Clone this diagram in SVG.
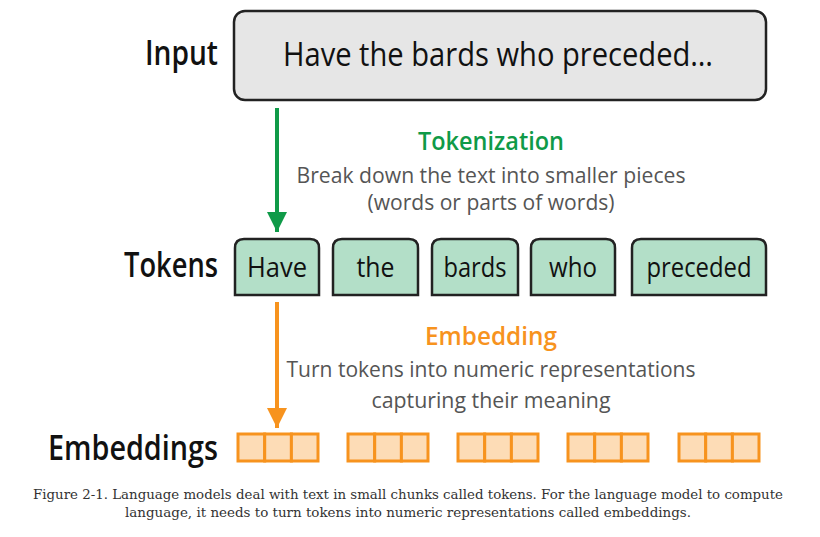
<svg xmlns="http://www.w3.org/2000/svg" width="820" height="537" viewBox="0 0 820 537">
<defs>
<style>
.lbl{font-family:"Open Sans","Liberation Sans",sans-serif;font-size:34px;fill:#111;text-anchor:end;font-weight:600}
.big{font-family:"Open Sans","Liberation Sans",sans-serif;font-size:33px;fill:#111;text-anchor:middle;font-weight:500}
.tok{font-family:"Open Sans","Liberation Sans",sans-serif;font-size:28px;fill:#111;text-anchor:middle;font-weight:500}
.head{font-family:"Open Sans","Liberation Sans",sans-serif;font-size:26px;font-weight:600;text-anchor:middle}
.desc{font-family:"Open Sans","Liberation Sans",sans-serif;font-size:22px;fill:#555;text-anchor:middle}
.cap{font-family:"DejaVu Serif","Liberation Serif",serif;font-size:13px;fill:#333;text-anchor:middle}
.tokbox{fill:#b3dfc8;stroke:#222;stroke-width:2.5}
.emb{fill:#fddcb6;stroke:#f7931e;stroke-width:3}
</style>
<marker id="ahG" viewBox="0 0 10 10" refX="10" refY="5" markerWidth="6" markerHeight="5" markerUnits="strokeWidth" orient="auto"><path d="M0,0L10,5L0,10z" fill="#0f9a48"/></marker>
<marker id="ahO" viewBox="0 0 10 10" refX="10" refY="5" markerWidth="6" markerHeight="5" markerUnits="strokeWidth" orient="auto"><path d="M0,0L10,5L0,10z" fill="#f7931e"/></marker>
</defs>
<rect width="820" height="537" fill="#fff"/>

<g id="labels">
<text class="lbl" x="218" y="65" textLength="73" lengthAdjust="spacingAndGlyphs">Input</text>
<text class="lbl" x="218" y="277" textLength="94" lengthAdjust="spacingAndGlyphs">Tokens</text>
<text class="lbl" x="218" y="460" textLength="170" lengthAdjust="spacingAndGlyphs">Embeddings</text>
</g>

<g id="input">
<rect x="234" y="11" width="532" height="89" rx="11" fill="#e6e6e6" stroke="#222" stroke-width="2.5"/>
<text class="big" x="498" y="66" textLength="430" lengthAdjust="spacingAndGlyphs">Have the bards who preceded…</text>
</g>

<g id="connectors">
<line x1="277" y1="108" x2="277" y2="232" stroke="#0f9a48" stroke-width="4" marker-end="url(#ahG)"/>
<line x1="277" y1="302" x2="277" y2="428" stroke="#f7931e" stroke-width="4" marker-end="url(#ahO)"/>
</g>

<g id="tokenization-label">
<text class="head" x="491" y="150" fill="#0f9a48" textLength="146" lengthAdjust="spacingAndGlyphs">Tokenization</text>
<text class="desc" x="491" y="183" textLength="389" lengthAdjust="spacingAndGlyphs">Break down the text into smaller pieces</text>
<text class="desc" x="491" y="210" textLength="247" lengthAdjust="spacingAndGlyphs">(words or parts of words)</text>
</g>

<g id="token-have">
<path class="tokbox" d="M235,295 V248 Q235,239 244,239 H310 Q319,239 319,248 V295 Z"/>
<text class="tok" x="277" y="277" textLength="60" lengthAdjust="spacingAndGlyphs">Have</text>
</g>
<g id="token-the">
<path class="tokbox" d="M333,295 V248 Q333,239 342,239 H409 Q418,239 418,248 V295 Z"/>
<text class="tok" x="375.5" y="277" textLength="38" lengthAdjust="spacingAndGlyphs">the</text>
</g>
<g id="token-bards">
<path class="tokbox" d="M432,295 V248 Q432,239 441,239 H509 Q518,239 518,248 V295 Z"/>
<text class="tok" x="475" y="277" textLength="63" lengthAdjust="spacingAndGlyphs">bards</text>
</g>
<g id="token-who">
<path class="tokbox" d="M531,295 V248 Q531,239 540,239 H606 Q615,239 615,248 V295 Z"/>
<text class="tok" x="573" y="277" textLength="48" lengthAdjust="spacingAndGlyphs">who</text>
</g>
<g id="token-preceded">
<path class="tokbox" d="M632,295 V248 Q632,239 641,239 H757 Q766,239 766,248 V295 Z"/>
<text class="tok" x="699" y="277" textLength="105" lengthAdjust="spacingAndGlyphs">preceded</text>
</g>

<g id="embedding-label">
<text class="head" x="491" y="345" fill="#f7931e" textLength="132" lengthAdjust="spacingAndGlyphs">Embedding</text>
<text class="desc" x="491" y="377" textLength="409" lengthAdjust="spacingAndGlyphs">Turn tokens into numeric representations</text>
<text class="desc" x="491" y="408" textLength="239" lengthAdjust="spacingAndGlyphs">capturing their meaning</text>
</g>

<g id="emb-1"><rect class="emb" x="238" y="434" width="26.7" height="27"/><rect class="emb" x="264.7" y="434" width="26.7" height="27"/><rect class="emb" x="291.4" y="434" width="26.6" height="27"/></g>
<g id="emb-2"><rect class="emb" x="348" y="434" width="26.7" height="27"/><rect class="emb" x="374.7" y="434" width="26.7" height="27"/><rect class="emb" x="401.4" y="434" width="26.6" height="27"/></g>
<g id="emb-3"><rect class="emb" x="458" y="434" width="26.7" height="27"/><rect class="emb" x="484.7" y="434" width="26.7" height="27"/><rect class="emb" x="511.4" y="434" width="26.6" height="27"/></g>
<g id="emb-4"><rect class="emb" x="568" y="434" width="26.7" height="27"/><rect class="emb" x="594.7" y="434" width="26.7" height="27"/><rect class="emb" x="621.4" y="434" width="26.6" height="27"/></g>
<g id="emb-5"><rect class="emb" x="679" y="434" width="26.7" height="27"/><rect class="emb" x="705.7" y="434" width="26.7" height="27"/><rect class="emb" x="732.4" y="434" width="26.6" height="27"/></g>

<g id="caption">
<text class="cap" x="408" y="499" textLength="750" lengthAdjust="spacingAndGlyphs">Figure 2-1. Language models deal with text in small chunks called tokens. For the language model to compute</text>
<text class="cap" x="408" y="517" textLength="566" lengthAdjust="spacingAndGlyphs">language, it needs to turn tokens into numeric representations called embeddings.</text>
</g>
</svg>
